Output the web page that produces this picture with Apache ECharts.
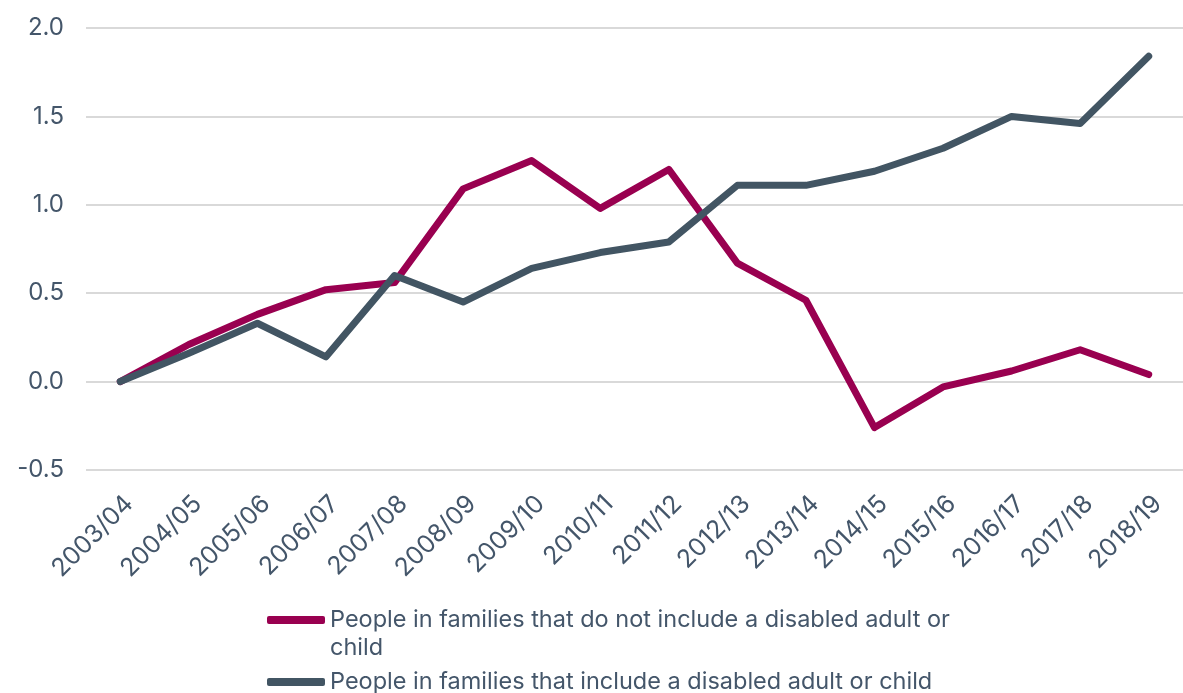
<!DOCTYPE html>
<html>
<head>
<meta charset="utf-8">
<script src="https://cdn.jsdelivr.net/npm/echarts@6/dist/echarts.min.js"></script>
<style>
html,body{margin:0;padding:0;background:#fff;}
#chart{width:1183px;height:693px;}
</style>
</head>
<body>
<div id="chart"></div>
<script>
const categories = ['2003/04','2004/05','2005/06','2006/07','2007/08','2008/09','2009/10','2010/11','2011/12','2012/13','2013/14','2014/15','2015/16','2016/17','2017/18','2018/19'];
const notDisabled = [0, 0.21, 0.38, 0.52, 0.56, 1.09, 1.25, 0.98, 1.20, 0.67, 0.46, -0.26, -0.03, 0.06, 0.18, 0.04];
const disabled = [0, 0.16, 0.33, 0.14, 0.60, 0.45, 0.64, 0.73, 0.79, 1.11, 1.11, 1.19, 1.32, 1.50, 1.46, 1.84];
const nameNot = 'People in families that do not include a disabled adult or child';
const nameDis = 'People in families that include a disabled adult or child';
const yTicks = { min: -0.5, max: 2.0, interval: 0.5 };

const textColor = '#44566a';
const font = 'Inter';
const chart = echarts.init(document.getElementById('chart'));
chart.setOption({
  animation: false,
  backgroundColor: '#fff',
  grid: { left: 86, right: -8, top: 28, bottom: 223, containLabel: false },
  xAxis: {
    type: 'category',
    data: categories,
    boundaryGap: true,
    axisLine: { show: false },
    axisTick: { show: false },
    splitLine: { show: false },
    axisLabel: { rotate: 45, margin: 21, align: 'right', verticalAlign: 'top', color: textColor, fontFamily: font, fontSize: 25, interval: 0 }
  },
  yAxis: {
    type: 'value',
    min: yTicks.min, max: yTicks.max, interval: yTicks.interval,
    axisLine: { show: false },
    axisTick: { show: false },
    splitLine: { lineStyle: { color: '#d9d9d9', width: 2 } },
    axisLabel: { margin: 22, color: textColor, fontFamily: font, fontSize: 24, formatter: v => v.toFixed(1) }
  },
  legend: {
    orient: 'vertical',
    left: 267,
    top: 578,
    padding: 0,
    itemGap: 6,
    itemWidth: 58,
    itemHeight: 8,
    icon: 'roundRect',
    textStyle: { color: textColor, fontFamily: font, fontSize: 23.5, lineHeight: 28 },
    formatter: function (name) {
      return name === nameNot ? '\nPeople in families that do not include a disabled adult or\nchild' : name;
    },
    data: [nameNot, nameDis]
  },
  series: [
    {
      name: nameNot, type: 'line', data: notDisabled, showSymbol: false, symbol: 'none',
      itemStyle: { color: '#990050' },
      lineStyle: { color: '#990050', width: 7, cap: 'round', join: 'round' }
    },
    {
      name: nameDis, type: 'line', data: disabled, showSymbol: false, symbol: 'none',
      itemStyle: { color: '#425563' },
      lineStyle: { color: '#425563', width: 7, cap: 'round', join: 'round' }
    }
  ]
});
</script>
</body>
</html>
